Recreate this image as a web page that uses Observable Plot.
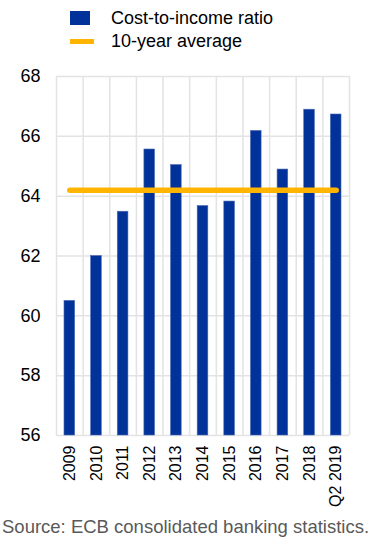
<!DOCTYPE html>
<html>
<head>
<meta charset="utf-8">
<script src="https://cdn.jsdelivr.net/npm/d3@7"></script>
<script src="https://cdn.jsdelivr.net/npm/@observablehq/plot@0.6"></script>
<style>
  html, body { margin: 0; padding: 0; background: #fff; }
  body { width: 371px; height: 546px; position: relative; overflow: hidden; font-family: "Liberation Sans", Arial, sans-serif; }
  #legend { position: absolute; left: 0; top: 0; width: 371px; height: 56px; }
  .item { position: absolute; left: 70px; font-size: 18px; line-height: 21px; color: #000; white-space: nowrap; }
  .item .sw { position: absolute; left: 0; }
  .item .lb { position: absolute; left: 41px; top: 0; }
  #chart { position: absolute; left: 0; top: 56px; }
  #caption { position: absolute; left: 2px; top: 516px; font-size: 18.5px; color: #595959; white-space: nowrap; }
</style>
</head>
<body>
<div id="legend">
  <div class="item" style="top:8px;"><span class="sw" style="top:3px;width:20px;height:14px;background:#003299;"></span><span class="lb">Cost-to-income ratio</span></div>
  <div class="item" style="top:31px;"><span class="sw" style="top:8px;width:24px;height:5px;background:#FFB400;"></span><span class="lb">10-year average</span></div>
</div>
<div id="chart"></div>
<div id="caption">Source: ECB consolidated banking statistics.</div>
<script>
const categories = ["2009","2010","2011","2012","2013","2014","2015","2016","2017","2018","Q2 2019"];
const costToIncome = [60.5, 62.0, 63.48, 65.56, 65.04, 63.67, 63.82, 66.18, 64.89, 66.89, 66.73];
const tenYearAverage = 64.2;
const yTicks = [56, 58, 60, 62, 64, 66, 68];

const bars = categories.map((c, i) => ({i, c, v: costToIncome[i]}));
const avgLine = [{i: 0, v: tenYearAverage}, {i: categories.length - 1, v: tenYearAverage}];
const boundaries = d3.range(categories.length + 1).map(k => k - 0.5);

const plot = Plot.plot({
  width: 371,
  height: 460,
  marginLeft: 56,
  marginRight: 22,
  marginTop: 20,
  marginBottom: 81,
  style: {fontFamily: "'Liberation Sans', Arial, sans-serif", background: "transparent", overflow: "visible"},
  x: {type: "linear", domain: [-0.5, categories.length - 0.5]},
  y: {domain: [56, 68]},
  marks: [
    Plot.ruleY(yTicks, {stroke: "#e3e3e3", strokeWidth: 1.5}),
    Plot.ruleX(boundaries, {stroke: "#e3e3e3", strokeWidth: 1.5}),
    Plot.rectY(bars, {x1: d => d.i - 0.2, x2: d => d.i + 0.2, y1: 56, y2: "v", fill: "#003299", stroke: "#4d6ab8", strokeWidth: 0.6}),
    Plot.line(avgLine, {x: "i", y: "v", stroke: "#FFB400", strokeWidth: 5.5, strokeLinecap: "round"}),
    Plot.axisY(yTicks, {tickSize: 0, tickPadding: 16, fontSize: 18, fill: "#000", label: null}),
    Plot.axisX(d3.range(categories.length), {tickFormat: i => categories[i], tickRotate: -90, tickSize: 0, tickPadding: 10, fontSize: 16, fill: "#000", label: null})
  ]
});
document.getElementById("chart").appendChild(plot);
</script>
</body>
</html>
